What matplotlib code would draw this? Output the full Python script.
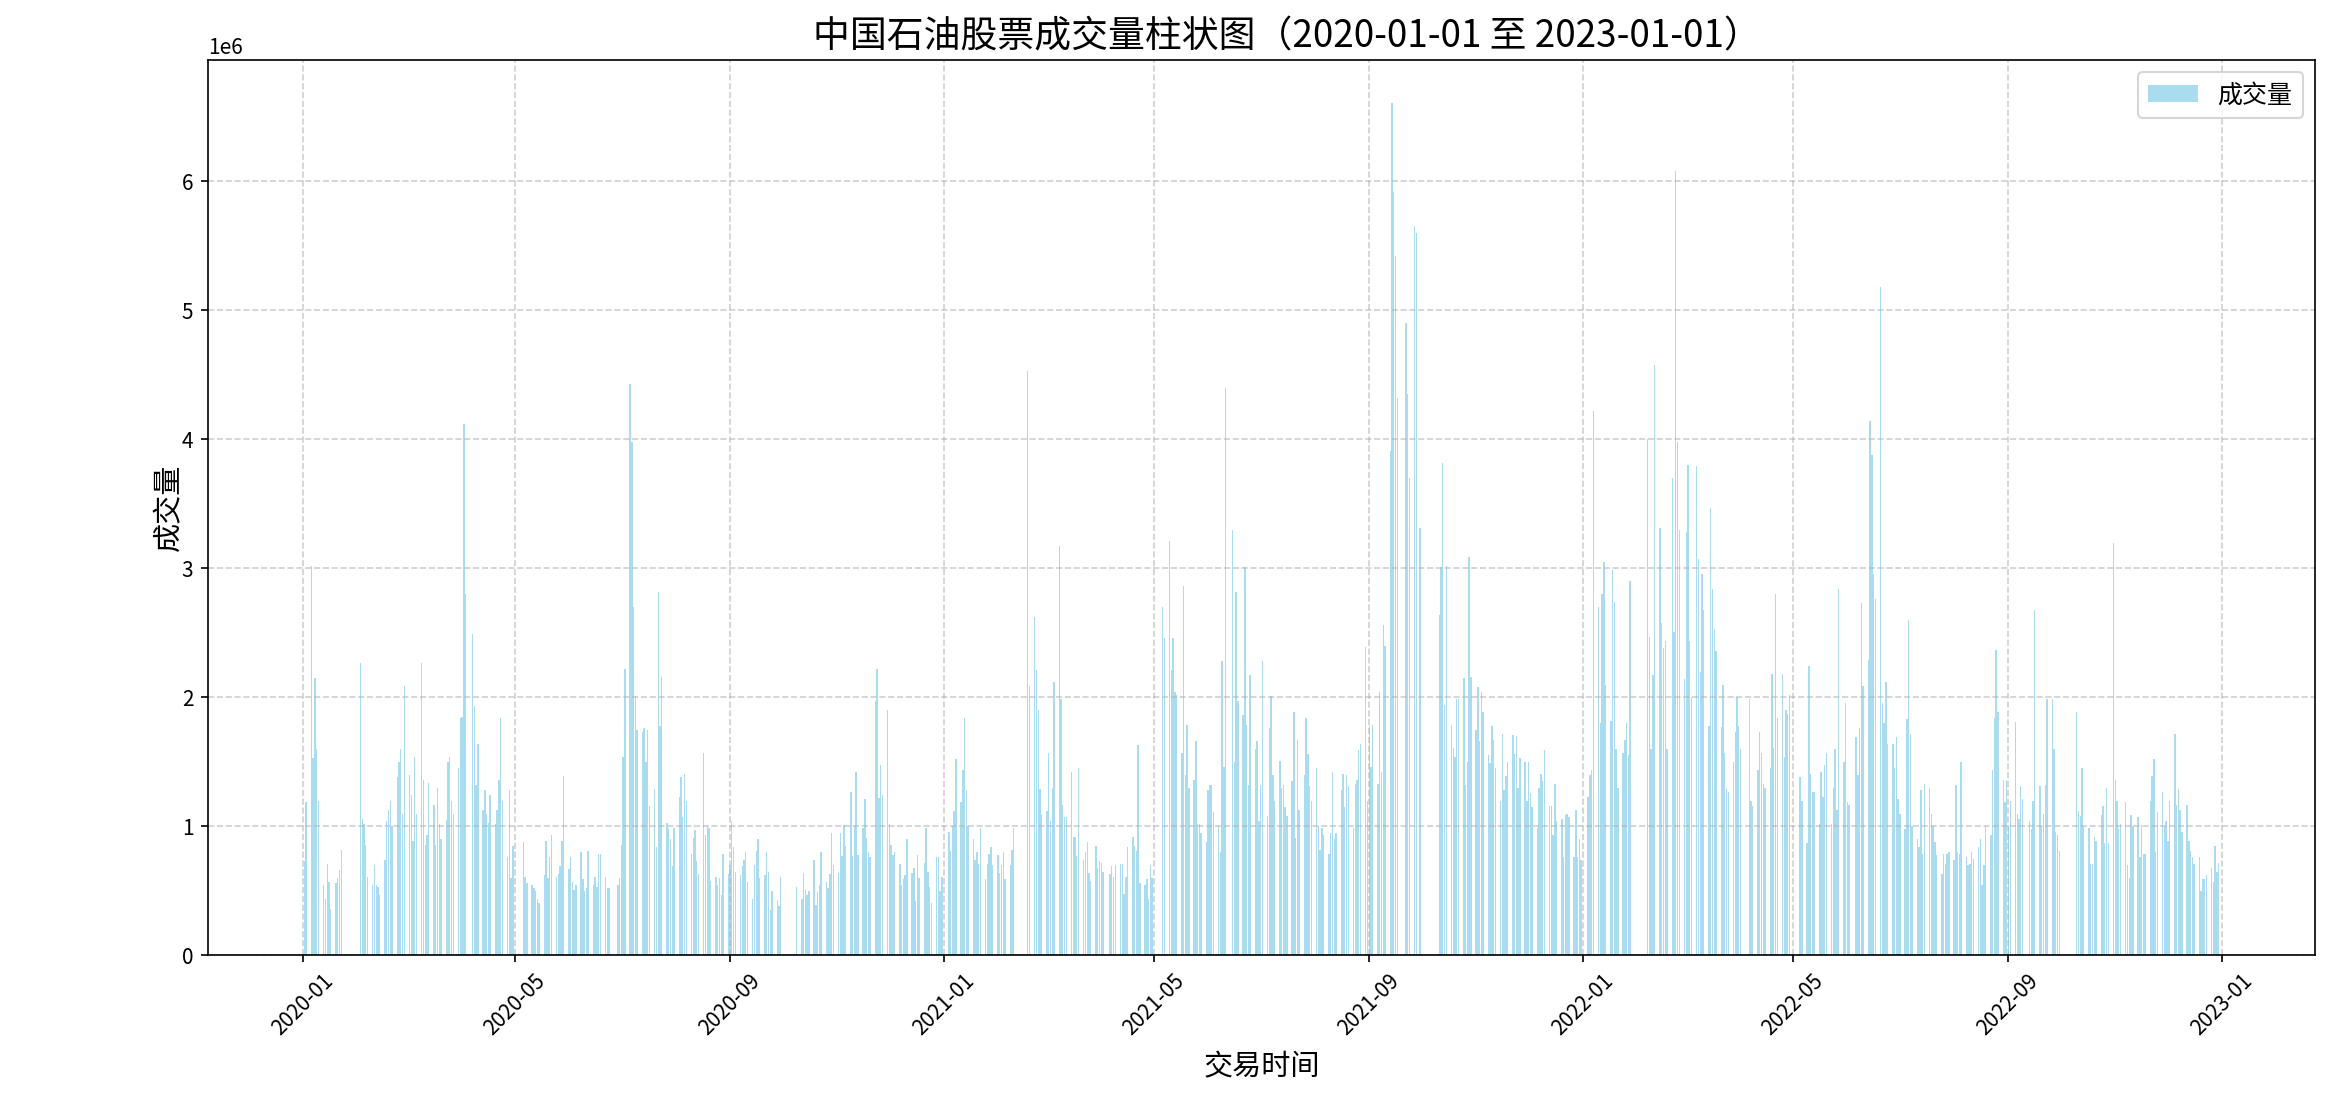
import numpy as np
import pandas as pd
import matplotlib
matplotlib.use("Agg")
import matplotlib.pyplot as plt
import matplotlib.dates as mdates

plt.rcParams["font.family"] = ["Noto Sans CJK SC", "DejaVu Sans"]
plt.rcParams["axes.unicode_minus"] = False

nan = float("nan")

# A股休市的工作日
holidays = [
    "2020-01-01", "2020-01-24", "2020-01-27", "2020-01-28", "2020-01-29",
    "2020-01-30", "2020-01-31", "2020-04-06", "2020-05-01", "2020-05-04",
    "2020-05-05", "2020-06-25", "2020-06-26", "2020-10-01", "2020-10-02",
    "2020-10-05", "2020-10-06", "2020-10-07", "2020-10-08",
    "2021-01-01", "2021-02-11", "2021-02-12", "2021-02-15", "2021-02-16",
    "2021-02-17", "2021-04-05", "2021-05-03", "2021-05-04", "2021-05-05",
    "2021-06-14", "2021-09-20", "2021-09-21", "2021-10-01", "2021-10-04",
    "2021-10-05", "2021-10-06", "2021-10-07",
    "2022-01-03", "2022-01-31", "2022-02-01", "2022-02-02", "2022-02-03",
    "2022-02-04", "2022-04-04", "2022-04-05", "2022-05-02", "2022-05-03",
    "2022-05-04", "2022-06-03", "2022-09-12", "2022-10-03", "2022-10-04",
    "2022-10-05", "2022-10-06", "2022-10-07",
]

# 日成交量 (百万), 每行一个月
volume_2020 = [
    0.73, 1.19, 3.02, 1.53, 2.15, 1.60, 1.20, 0.55, 0.44, 0.71, 0.57, 0.36, 0.56, 0.60, 0.66, 0.82,
    2.27, 1.06, 1.02, 0.86, 0.61, 0.55, 0.70, 0.55, 0.53, 0.47, 0.74, 1.04, 1.13, 1.20, 1.00, 1.38, 1.50, 1.60, 1.10, 2.09,
    1.40, 1.24, 0.89, 1.54, 1.10, 2.27, 1.36, 0.86, 0.93, 1.34, 1.17, 0.86, 1.30, 1.02, 0.90, 1.05, 1.50, 1.54, 1.20, 1.10, 1.45, 1.84,
    1.85, 4.12, 2.80, 2.49, 1.93, 1.32, 1.64, 1.13, 1.28, 1.10, 1.03, 1.24, 1.02, 1.13, 1.36, 1.84, 1.20, 0.76, 1.28, 0.60, 0.85,
    0.88, 0.61, 0.56, 0.55, 0.52, 0.50, 0.44, 0.41, 0.62, 0.89, 0.60, 0.76, 0.93, 0.61, 0.63, 0.69, 0.89, 1.39,
    0.67, 0.76, 0.57, 0.51, 0.55, 0.80, 0.59, 0.50, 0.52, 0.81, 0.55, 0.61, 0.53, 0.79, 0.79, 0.61, 0.52, 0.52, 0.55, 0.60,
    0.86, 1.54, 2.22, 4.43, 3.98, 2.70, 2.01, 1.75, 1.73, 1.76, 1.50, 1.75, 1.16, 1.29, 0.84, 2.82, 1.78, 2.16, 1.03, 0.98, 0.90, 0.69, 0.99,
    1.23, 1.38, 1.07, 1.41, 1.20, 0.79, 0.91, 0.97, 0.73, 0.63, 1.57, 0.93, 1.01, 0.99, 0.58, 0.61, 0.55, 0.60, 0.47, 0.79, 0.63,
    0.70, 1.04, 0.84, 0.65, 0.62, 0.69, 0.74, 0.80, 0.57, 0.44, 0.70, 0.81, 0.90, 0.60, 0.62, 0.80, 0.65, 0.35, 0.50, 0.43, 0.38, 0.61,
    0.53, 0.44, 0.64, 0.51, 0.47, 0.50, 0.74, 0.39, 0.49, 0.55, 0.80, 0.57, 0.52, 0.63, 0.95, 0.70,
    0.64, 0.95, 0.77, 1.01, 0.85, 1.27, 0.77, 1.00, 1.42, 0.78, 0.99, 1.21, 0.91, 0.80, 0.76, 1.97, 2.22, 1.22, 1.48, 1.24, 1.90,
    1.02, 0.86, 0.78, 0.80, 0.71, 0.55, 0.59, 0.62, 0.90, 0.64, 0.68, 0.42, 0.78, 0.60, 0.72, 0.99, 0.65, 0.53, 0.41, 0.76, 0.76, 0.50, 0.61,
]

volume_2021 = [
    0.96, 0.81, 1.00, 1.12, 1.52, 1.19, 1.44, 1.84, 1.28, 1.00, 0.90, 0.74, 0.80, 0.71, 0.99, 0.59, 0.71, 0.79, 0.84, 0.70,
    0.78, 0.64, 0.70, 0.80, 0.59, 0.70, 0.82, 0.99, 4.53, 2.09, 2.62, 2.21, 1.90, 1.29, 1.10,
    1.12, 1.57, 1.04, 1.30, 2.12, 3.17, 1.99, 1.17, 1.07, 1.07, 1.42, 0.92, 0.92, 0.77, 1.45, 0.74, 0.80, 0.88, 0.64, 0.58, 0.85, 0.68, 0.73,
    0.72, 0.65, 0.63, 0.69, 0.61, 0.70, 0.71, 0.71, 0.48, 0.61, 0.84, 0.92, 0.85, 0.81, 1.63, 0.56, 0.55, 0.59, 0.44, 0.70, 0.60,
    2.70, 2.46, 3.21, 2.21, 2.46, 2.04, 2.02, 1.57, 2.86, 1.40, 1.79, 1.30, 1.36, 1.66, 1.02, 1.02, 0.95, 0.88,
    1.28, 1.32, 1.32, 1.11, 1.00, 0.80, 2.28, 1.46, 4.40, 3.30, 1.50, 2.82, 1.97, 1.86, 3.01, 1.79, 1.32, 2.17, 1.60, 1.66, 1.04,
    1.32, 2.28, 1.08, 1.76, 2.01, 1.40, 1.20, 1.51, 1.30, 1.32, 1.15, 1.08, 1.35, 1.89, 0.91, 1.67, 1.13, 1.40, 1.84, 1.56, 1.31, 1.20,
    1.45, 1.00, 0.82, 0.99, 0.93, 0.79, 0.95, 1.42, 0.90, 0.95, 1.28, 1.41, 1.15, 1.40, 1.31, 0.99, 1.33, 1.36, 1.59, 1.64, 2.39, 1.20,
    1.78, 1.46, 1.79, 1.33, 2.04, 1.42, 2.56, 2.40, 3.91, 6.61, 5.92, 5.42, 4.32, 4.90, 4.35, 3.70, 5.65, 5.60, nan, 3.31,
    nan, 2.64, 3.01, 3.82, 1.94, 3.02, 1.79, 1.61, 1.54, 1.99, 1.99, 2.15, 1.32, 1.50, 3.09, 2.16,
    1.75, 2.08, 1.66, 2.04, 1.89, 1.55, 1.49, 1.78, 1.67, 1.45, 1.20, 1.72, 1.28, 1.39, 1.50, 1.71, 1.56, 1.70, 1.30, 1.53, 1.50, 1.20,
    1.50, 1.26, 1.15, 0.99, 1.30, 1.41, 1.35, 1.59, 1.16, 1.16, 0.93, 1.33, 1.04, 1.06, 0.76, 1.09, 1.10, 1.07, 0.76, 1.13, 0.76, 0.90, 0.74,
]

volume_2022 = [
    1.23, 1.40, 1.44, 4.22, 2.70, 1.80, 2.80, 3.05, 2.10, 1.82, 2.99, 2.74, 1.60, 1.30, 1.57, 1.67, 1.80, 1.55, 2.90,
    4.00, 2.47, 1.60, 2.17, 4.58, 3.31, 2.58, 2.38, 2.44, 1.60, 3.70, 2.51, 6.08, 3.98, 3.30, 2.14,
    3.28, 3.80, 2.44, 2.00, 3.79, 3.07, 2.20, 2.96, 2.68, 1.78, 3.47, 2.84, 2.53, 2.36, 1.77, 2.10, 1.57, 1.29, 1.27, 1.50, 1.73, 2.00, 1.78,
    1.60, 1.99, 1.20, 1.16, 1.44, 1.73, 1.57, 1.33, 1.30, 1.45, 2.18, 1.61, 2.80, 1.84, 2.18, 1.54, 1.90, 1.87, 2.02,
    1.38, 1.20, 0.87, 2.24, 1.41, 1.27, 1.27, 1.02, 1.42, 1.23, 1.48, 1.57, 1.02, 1.30, 1.60, 1.13, 2.84, 1.50, 1.96,
    1.19, 1.17, 1.69, 1.40, 1.76, 2.73, 2.09, 2.29, 4.14, 3.88, 2.96, 2.76, 5.18, 1.96, 1.80, 2.12, 1.64, 1.64, 1.45, 1.69, 1.21,
    1.10, 0.98, 1.83, 2.60, 1.72, 1.00, 0.90, 0.84, 1.28, 0.79, 1.33, 1.30, 1.10, 1.00, 0.88, 0.78, 0.63, 0.79, 0.71, 0.79, 0.80,
    0.74, 1.32, 0.80, 0.79, 1.50, 0.76, 0.70, 0.71, 0.80, 0.75, 0.84, 0.90, 0.55, 0.70, 1.00, 0.93, 1.44, 1.84, 2.37, 1.89, 1.36, 1.19, 1.36,
    1.00, 1.20, 1.81, 1.10, 1.06, 1.31, 1.21, 1.04, 0.98, 1.20, 2.68, 1.31, 1.00, 1.10, 1.32, 1.99, 1.99, 1.60, 0.96, 0.93, 0.81,
    1.89, 1.12, 1.08, 1.45, 1.00, 0.99, 0.71, 0.71, 0.92, 0.89, 1.09, 1.16, 0.87, 1.30, 0.87, 3.20,
    1.36, 1.20, 0.98, 1.02, 1.19, 0.70, 0.60, 1.09, 1.00, 1.07, 0.76, 1.01, 0.79, 0.79, 1.20, 1.39, 1.52, 0.80, 1.11, 1.27, 1.00, 1.04,
    0.89, 1.20, 1.72, 1.17, 1.29, 1.13, 0.96, 1.17, 0.89, 0.81, 0.76, 0.71, 0.76, 0.50, 0.59, 0.59, 0.62, 0.68, 0.57, 0.85, 0.65, 0.72,
]

dates = pd.bdate_range("2020-01-01", "2022-12-31", freq="C", holidays=holidays)
volume = np.array(volume_2020 + volume_2021 + volume_2022) * 1e6

fig, ax = plt.subplots(figsize=(2334 / 150, 1096 / 150), dpi=150)
fig.subplots_adjust(left=0.0891, right=0.9919, top=0.9453, bottom=0.1282)

ax.bar(dates, volume, color="skyblue", alpha=0.7, label="成交量")

ax.set_title("中国石油股票成交量柱状图（2020-01-01 至 2023-01-01）", fontsize=17.7, x=0.512)
ax.set_xlabel("交易时间", fontsize=14, labelpad=6)
ax.set_ylabel("成交量", fontsize=14, labelpad=-1)

ax.xaxis.set_major_locator(mdates.MonthLocator(bymonth=(1, 5, 9)))
ax.xaxis.set_major_formatter(mdates.DateFormatter("%Y-%m"))
plt.setp(ax.get_xticklabels(), rotation=45)

ax.grid(True, linestyle="--", alpha=0.6)
ax.legend(loc="upper right", fontsize=12)

fig.savefig("out.png", dpi=150)
